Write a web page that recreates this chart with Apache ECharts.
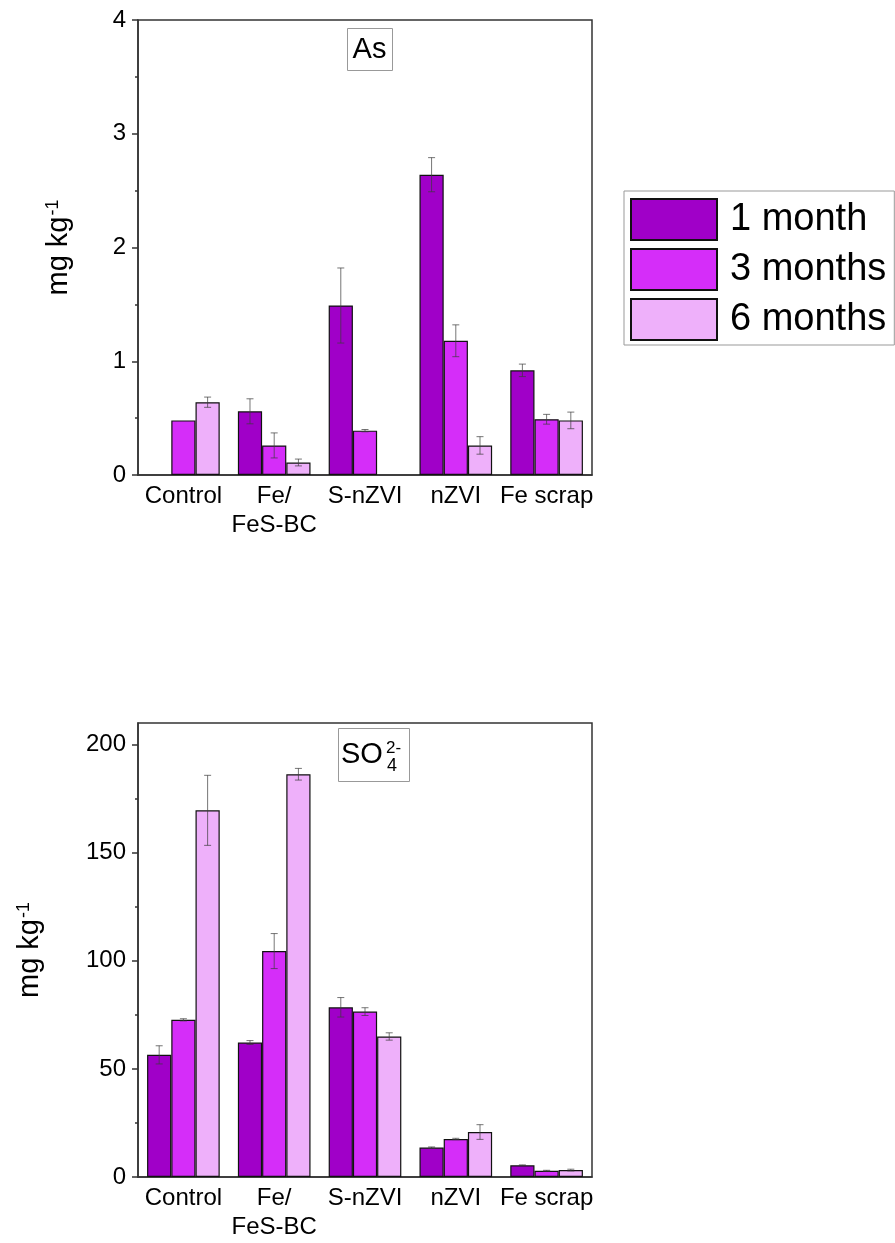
<!DOCTYPE html>
<html><head><meta charset="utf-8">
<script src="https://cdn.jsdelivr.net/npm/echarts@6/dist/echarts.min.js"></script>
<style>html,body{margin:0;padding:0;background:#fff}#c{width:895px;height:1243px}</style>
</head><body><div id="c"></div>
<script>
const categories = ['Control', 'Fe/\nFeS-BC', 'S-nZVI', 'nZVI', 'Fe scrap'];
const seriesNames = ['1 month', '3 months', '6 months'];
const as1 = [null, 0.56, 1.49, 2.64, 0.92];
const as3 = [0.48, 0.26, 0.39, 1.18, 0.49];
const as6 = [0.64, 0.11, null, 0.26, 0.48];
const asErr1 = [null, 0.11, 0.33, 0.15, 0.055];
const asErr3 = [0, 0.11, 0.01, 0.14, 0.043];
const asErr6 = [0.045, 0.03, null, 0.077, 0.073];
const so1 = [56.5, 62.2, 78.5, 13.6, 5.4];
const so3 = [72.7, 104.5, 76.5, 17.6, 2.9];
const so6 = [169.6, 186.3, 65.0, 20.8, 3.2];
const soErr1 = [4.2, 0.9, 4.5, 0.3, 0.2];
const soErr3 = [0.5, 8.1, 1.8, 0.3, 0.2];
const soErr6 = [16.2, 2.7, 1.7, 3.4, 0.4];
const asTicks = [0, 1, 2, 3, 4];
const asMinorTicks = [0.5, 1.5, 2.5, 3.5];
const soTicks = [0, 50, 100, 150, 200];
const soMinorTicks = [25, 75, 125, 175];

const FONT = '"Liberation Sans", Arial, sans-serif';
const colors = ['#a000c8', '#d52df9', '#eeb0fa'];
const AX = '#333';

const chart = echarts.init(document.getElementById('c'));

function xAxes(g) {
  return [
    { type: 'category', gridIndex: g, data: categories, position: 'bottom',
      axisLine: { lineStyle: { color: AX, width: 1.5 } },
      axisTick: { alignWithLabel: true, interval: 0, length: 6, lineStyle: { color: AX, width: 1.5 } },
      axisLabel: { interval: 0, fontSize: 24, lineHeight: 29, margin: 7, color: '#000', fontFamily: FONT } },
    { type: 'category', gridIndex: g, data: categories, position: 'bottom',
      axisLine: { show: false },
      axisTick: { interval: 0, length: 3, lineStyle: { color: AX, width: 1.5 } },
      axisLabel: { show: false } }
  ];
}
function yAxes(g, max, ticks, minor, gap) {
  return [
    { type: 'value', gridIndex: g, min: 0, max: max, position: 'left',
      name: '{a|mg kg}{b|-1}', nameLocation: 'middle', nameGap: gap, nameRotate: 90,
      nameTextStyle: { fontFamily: FONT, color: '#000',
        rich: { a: { fontSize: 29, fontFamily: FONT, color: '#000' },
                b: { fontSize: 18, fontFamily: FONT, color: '#000', verticalAlign: 'top', padding: [0, 0, 12, 1] } } },
      splitLine: { show: false },
      axisLine: { show: true, lineStyle: { color: AX, width: 1.5 } },
      axisTick: { show: true, length: 6, customValues: ticks, lineStyle: { color: AX, width: 1.5 } },
      axisLabel: { fontSize: 24, margin: 12, color: '#000', fontFamily: FONT, customValues: ticks } },
    { type: 'value', gridIndex: g, min: 0, max: max, position: 'left',
      splitLine: { show: false },
      axisLine: { show: false },
      axisTick: { show: true, length: 3, customValues: minor, lineStyle: { color: AX, width: 1.5 } },
      axisLabel: { show: false, customValues: minor } }
  ];
}
function barSeries(name, vals, idx, g) {
  return { type: 'bar', name: name, xAxisIndex: g * 2, yAxisIndex: g * 2, data: vals,
    barGap: '0%', barCategoryGap: '20%',
    itemStyle: { color: colors[idx], borderColor: '#111', borderWidth: 1.2 } };
}
function errSeries(vals, errs, idx, g) {
  const data = [];
  vals.forEach((v, i) => { if (v != null && errs[i]) data.push([i, v, errs[i]]); });
  return { type: 'custom', name: 'err' + g + idx, xAxisIndex: g * 2, yAxisIndex: g * 2, z: 5, silent: true,
    data: data,
    renderItem: function (params, api) {
      const i = api.value(0), v = api.value(1), e = api.value(2);
      const c = api.coord([i, v]);
      const band = api.size([1, 0])[0];
      const bw = band * 0.8 / 3;
      const x = c[0] + (idx - 1) * bw;
      const top = api.coord([i, v + e])[1];
      const bot = api.coord([i, v - e])[1];
      const cap = 3.5;
      const st = { stroke: 'rgba(60,60,60,0.7)', lineWidth: 1 };
      return { type: 'group', children: [
        { type: 'line', shape: { x1: x, y1: top, x2: x, y2: bot }, style: st },
        { type: 'line', shape: { x1: x - cap, y1: top, x2: x + cap, y2: top }, style: st },
        { type: 'line', shape: { x1: x - cap, y1: bot, x2: x + cap, y2: bot }, style: st }
      ] };
    } };
}

const option = {
  backgroundColor: '#fff',
  animation: false,
  textStyle: { fontFamily: FONT },
  grid: [
    { left: 138, right: 303, top: 20, height: 455, show: true, borderColor: AX, borderWidth: 1.5, backgroundColor: 'transparent' },
    { left: 138, right: 303, top: 723, height: 454, show: true, borderColor: AX, borderWidth: 1.5, backgroundColor: 'transparent' }
  ],
  xAxis: [].concat(xAxes(0), xAxes(1)),
  yAxis: [].concat(yAxes(0, 4, asTicks, asMinorTicks, 64), yAxes(1, 210, soTicks, soMinorTicks, 93)),
  legend: {
    data: seriesNames, orient: 'vertical', left: 624, top: 191,
    itemWidth: 86, itemHeight: 41, itemGap: 7, padding: [7, 8, 4, 6],
    borderColor: '#999', borderWidth: 1, icon: 'rect', selectedMode: false,
    textStyle: { fontSize: 38, color: '#000', fontFamily: FONT, lineHeight: 41, padding: [0, 0, 0, 8] }
  },
  series: [
    barSeries(seriesNames[0], as1, 0, 0), barSeries(seriesNames[1], as3, 1, 0), barSeries(seriesNames[2], as6, 2, 0),
    barSeries(seriesNames[0], so1, 0, 1), barSeries(seriesNames[1], so3, 1, 1), barSeries(seriesNames[2], so6, 2, 1),
    errSeries(as1, asErr1, 0, 0), errSeries(as3, asErr3, 1, 0), errSeries(as6, asErr6, 2, 0),
    errSeries(so1, soErr1, 0, 1), errSeries(so3, soErr3, 1, 1), errSeries(so6, soErr6, 2, 1)
  ],
  graphic: [
    { type: 'rect', left: 347, top: 28, z: 10, shape: { width: 45, height: 42 }, style: { fill: '#fff', stroke: '#999', lineWidth: 1 } },
    { type: 'text', x: 369.5, y: 50, z: 11, style: { text: 'As', fontSize: 29, fontFamily: FONT, fill: '#000', align: 'center', verticalAlign: 'middle' } },
    { type: 'rect', left: 338, top: 728, z: 10, shape: { width: 71, height: 53 }, style: { fill: '#fff', stroke: '#999', lineWidth: 1 } },
    { type: 'text', x: 341, y: 755, z: 11, style: { text: 'SO', fontSize: 29, fontFamily: FONT, fill: '#000', align: 'left', verticalAlign: 'middle' } },
    { type: 'text', x: 386, y: 740, z: 11, style: { text: '2-', fontSize: 17, fontFamily: FONT, fill: '#000', align: 'left', verticalAlign: 'top' } },
    { type: 'text', x: 387, y: 757, z: 11, style: { text: '4', fontSize: 18, fontFamily: FONT, fill: '#000', align: 'left', verticalAlign: 'top' } }
  ]
};
chart.setOption(option);
</script>
</body></html>
